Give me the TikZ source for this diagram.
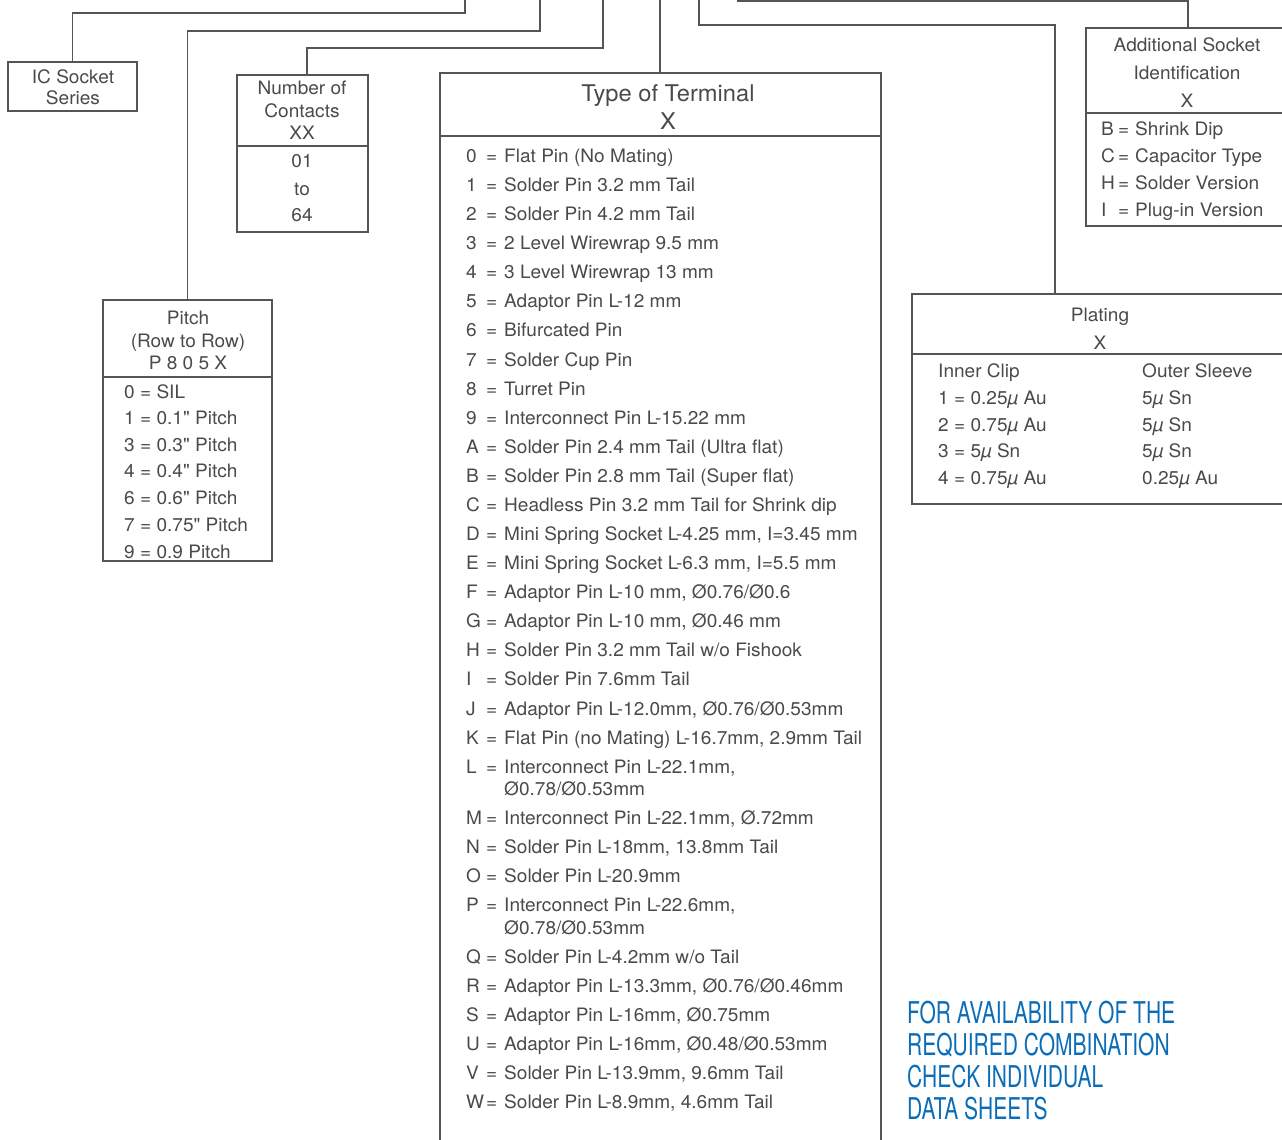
\documentclass[tikz,border=0pt]{standalone}
\usepackage{fontspec}
\setmainfont{TeX Gyre Heros}
\newfontfamily\pfont[FakeStretch=1.03]{TeX Gyre Heros}
\newfontfamily\condfont[FakeStretch=0.7]{TeX Gyre Heros}
\definecolor{txt}{HTML}{4A4A4A}
\definecolor{ln}{HTML}{555555}
\definecolor{blu}{HTML}{0B6DB7}
\tikzset{
  box/.style={draw=ln, line width=1.1pt, inner sep=0pt, outer sep=0pt, anchor=north west},
  conn/.style={draw=ln, line width=1.1pt},
  lt/.style={anchor=base west, inner sep=0pt, font=\pfont\fontsize{18.5}{20}\selectfont, text=txt},
  hd/.style={anchor=base, inner sep=0pt, font=\pfont\fontsize{18.5}{20}\selectfont, text=txt},
  bl/.style={anchor=base west, inner sep=0pt, font=\condfont\fontsize{30}{32}\selectfont, text=blu},
}
\begin{document}
\begin{tikzpicture}[x=1pt,y=-1pt]
\useasboundingbox (0,0) rectangle (1282,1140);
\clip (0,0) rectangle (1282,1140);

% boxes
\node[box, minimum width=129, minimum height=49] (ic) at (8,62) {};
\node[box, minimum width=131, minimum height=157] (nc) at (237,75) {};
\node[box, minimum width=441, minimum height=1100] (tt) at (440,73) {};
\node[box, minimum width=169, minimum height=261] (pi) at (103,300) {};
\node[box, minimum width=230, minimum height=198] (as) at (1086,28) {};
\node[box, minimum width=400, minimum height=210] (pl) at (912,294) {};

% dividers
\draw[conn] (237,146) -- (368,146);
\draw[conn] (440,136) -- (881,136);
\draw[conn] (103,377) -- (272,377);
\draw[conn] (1086,113) -- (1290,113);
\draw[conn] (912,354) -- (1290,354);

% connectors
\coordinate (t1) at (465,-5);
\coordinate (t2) at (540,-5);
\coordinate (t3) at (603,-5);
\coordinate (t4) at (660,-5);
\coordinate (t5) at (699,-5);
\coordinate (t6) at (738,-5);
\draw[conn] (ic.north) |- (465,13) -- (t1);
\draw[conn] (pi.north) |- (540,31) -- (t2);
\draw[conn] (nc.north -| 307,0) |- (603,48) -- (t3);
\draw[conn] (tt.north -| t4) -- (t4);
\draw[conn] (pl.north -| 1055,0) |- (699,25) -- (t5);
\draw[conn] (as.north -| 1188,0) |- (738,1) -- (t6);

% IC socket
\node[hd] (ic1) at (73,83.5) {IC Socket};
\node[hd] (ic2) at (73,104.5) {Series};

% Number of contacts
\node[hd] (nc1) at (302,94.5) {Number of};
\node[hd] (nc2) at (302,117.5) {Contacts};
\node[hd] (nc3) at (302,139.5) {XX};
\node[hd] (nc4) at (302,167.5) {01};
\node[hd] (nc5) at (302,195.5) {to};
\node[hd] (nc6) at (302,221.5) {64};

% Pitch
\node[hd] (pi1) at (188,324.5) {Pitch};
\node[hd] (pi2) at (188,347.5) {(Row to Row)};
\node[hd] (pi3) at (188,369.5) {P 8 0 5 X};
\foreach \y/\t [count=\i] in {392/{0 = SIL},418/{1 = 0.1" Pitch},445/{3 = 0.3" Pitch},471/{4 = 0.4" Pitch},498/{6 = 0.6" Pitch},525/{7 = 0.75" Pitch},552/{9 = 0.9 Pitch}}
  \node[lt] (pit-\i) at (124,\y+6.5) {\t};

% Type of terminal
\node[hd, font=\pfont\fontsize{23}{25}\selectfont] (tt1) at (668,101) {Type of Terminal};
\node[hd, font=\pfont\fontsize{23}{25}\selectfont] (tt2) at (668,129) {X};
\foreach \y/\k/\t [count=\i] in {
 156/0/{Flat Pin (No Mating)},
 185/1/{Solder Pin 3.2 mm Tail},
 214/2/{Solder Pin 4.2 mm Tail},
 243/3/{2 Level Wirewrap 9.5 mm},
 272/4/{3 Level Wirewrap 13 mm},
 301/5/{Adaptor Pin L-12 mm},
 330/6/{Bifurcated Pin},
 360/7/{Solder Cup Pin},
 389/8/{Turret Pin},
 418/9/{Interconnect Pin L-15.22 mm},
 447/A/{Solder Pin 2.4 mm Tail (Ultra flat)},
 476/B/{Solder Pin 2.8 mm Tail (Super flat)},
 505/C/{Headless Pin 3.2 mm Tail for Shrink dip},
 534/D/{Mini Spring Socket L-4.25 mm, I=3.45 mm},
 563/E/{Mini Spring Socket L-6.3 mm, I=5.5 mm},
 592/F/{Adaptor Pin L-10 mm, Ø0.76/Ø0.6},
 621/G/{Adaptor Pin L-10 mm, Ø0.46 mm},
 650/H/{Solder Pin 3.2 mm Tail w/o Fishook},
 679/I/{Solder Pin 7.6mm Tail},
 709/J/{Adaptor Pin L-12.0mm, Ø0.76/Ø0.53mm},
 738/K/{Flat Pin (no Mating) L-16.7mm, 2.9mm Tail},
 767/L/{Interconnect Pin L-22.1mm,},
 818/M/{Interconnect Pin L-22.1mm, Ø.72mm},
 847/N/{Solder Pin L-18mm, 13.8mm Tail},
 876/O/{Solder Pin L-20.9mm},
 905/P/{Interconnect Pin L-22.6mm,},
 957/Q/{Solder Pin L-4.2mm w/o Tail},
 986/R/{Adaptor Pin L-13.3mm, Ø0.76/Ø0.46mm},
 1015/S/{Adaptor Pin L-16mm, Ø0.75mm},
 1044/U/{Adaptor Pin L-16mm, Ø0.48/Ø0.53mm},
 1073/V/{Solder Pin L-13.9mm, 9.6mm Tail},
 1102/W/{Solder Pin L-8.9mm, 4.6mm Tail}}
{
  \node[lt] (tk-\i) at (466,\y+6.5) {\k};
  \node[lt] (te-\i) at (486,\y+6.5) {=};
  \node[lt] (tv-\i) at (504,\y+6.5) {\t};
}
\node[lt] (tl2) at (504,795.5) {Ø0.78/Ø0.53mm};
\node[lt] (tp2) at (504,934.5) {Ø0.78/Ø0.53mm};

% Additional socket identification
\node[hd] (as1) at (1187,51.5) {Additional Socket};
\node[hd] (as2) at (1187,79.5) {Identification};
\node[hd] (as3) at (1187,107.5) {X};
\foreach \y/\k/\t [count=\i] in {129/B/{Shrink Dip},156/C/{Capacitor Type},183/H/{Solder Version},210/I/{Plug-in Version}}
{
  \node[lt] (ak-\i) at (1101,\y+6.5) {\k};
  \node[lt] (ae-\i) at (1118,\y+6.5) {=};
  \node[lt] (av-\i) at (1135,\y+6.5) {\t};
}

% Plating
\node[hd] (pl1) at (1100,321.5) {Plating};
\node[hd] (pl2) at (1100,349.5) {X};
\node[lt] (pc1) at (938,377.5) {Inner Clip};
\node[lt] (pc2) at (1142,377.5) {Outer Sleeve};
\foreach \y/\a/\b [count=\i] in {398/{1 = 0.25\textit{µ} Au}/{5\textit{µ} Sn},425/{2 = 0.75\textit{µ} Au}/{5\textit{µ} Sn},451/{3 = 5\textit{µ} Sn}/{5\textit{µ} Sn},478/{4 = 0.75\textit{µ} Au}/{0.25\textit{µ} Au}}
{
  \node[lt] (pa-\i) at (938,\y+6.5) {\a};
  \node[lt] (pb-\i) at (1142,\y+6.5) {\b};
}

% note
\node[bl] (n1) at (907,1023) {FOR AVAILABILITY OF THE};
\node[bl] (n2) at (907,1055) {REQUIRED COMBINATION};
\node[bl] (n3) at (907,1087) {CHECK INDIVIDUAL};
\node[bl] (n4) at (907,1119) {DATA SHEETS};
\end{tikzpicture}
\end{document}
